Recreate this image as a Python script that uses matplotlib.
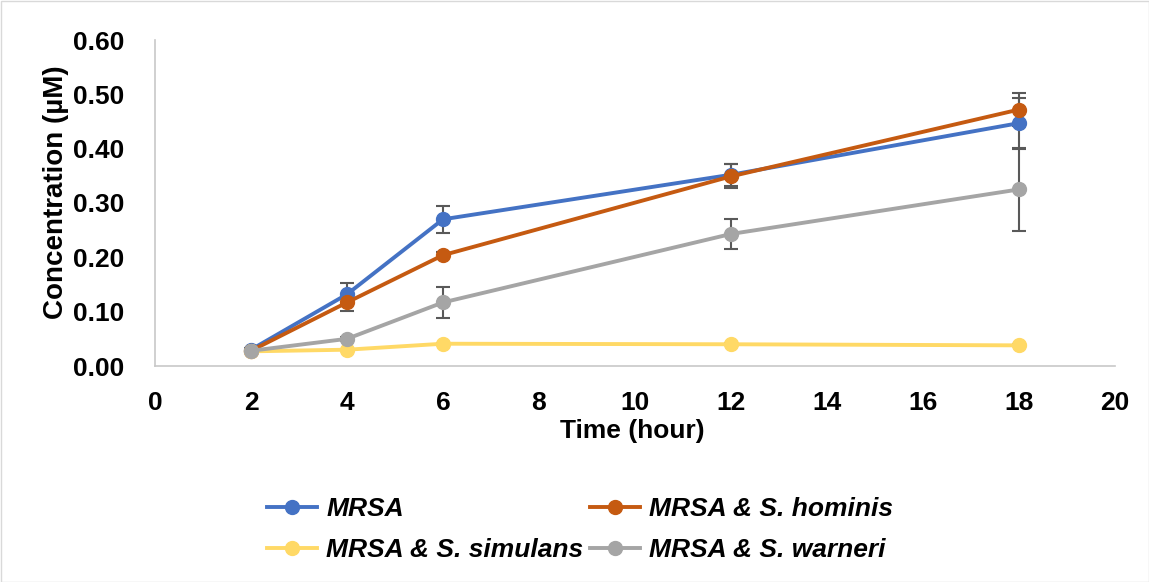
import matplotlib
matplotlib.use("Agg")
import matplotlib.pyplot as plt
from matplotlib.patches import Rectangle

plt.rcParams['font.family'] = ['Liberation Sans', 'DejaVu Sans']

time = [2, 4, 6, 12, 18]
mrsa = [0.030, 0.132, 0.270, 0.352, 0.447]
mrsa_err = [0.003, 0.020, 0.025, 0.020, 0.047]
hominis = [0.028, 0.117, 0.204, 0.349, 0.472]
hominis_err = [0.003, 0.015, 0.005, 0.022, 0.030]
simulans = [0.027, 0.030, 0.041, 0.040, 0.038]
simulans_err = [0.001, 0.002, 0.002, 0.002, 0.002]
warneri = [0.028, 0.050, 0.117, 0.243, 0.325]
warneri_err = [0.002, 0.004, 0.029, 0.027, 0.076]

labels = ["MRSA", "MRSA & S. hominis", "MRSA & S. simulans", "MRSA & S. warneri"]
colors = ["#4472C4", "#C55A11", "#FFD966", "#A5A5A5"]
series = [mrsa, hominis, simulans, warneri]
errors = [mrsa_err, hominis_err, simulans_err, warneri_err]

fig = plt.figure(figsize=(11.49, 5.82), dpi=100)
ax = fig.add_axes([155/1149, 1-366/582, (1115-155)/1149, (366-40)/582])

handles = []
for i, (y, e, c, lab) in enumerate(zip(series, errors, colors, labels)):
    ax.errorbar(time, y, yerr=e, fmt='none', ecolor='#595959', elinewidth=1.5,
                capsize=5, capthick=1.5, zorder=2 + i * 0.1)
    h, = ax.plot(time, y, color=c, lw=2.8, marker='o', markersize=10,
                 label=lab, zorder=3 + i * 0.1)
    handles.append(h)

ax.set_xlim(0, 20)
ax.set_ylim(0, 0.60)
ax.set_xticks(range(0, 21, 2))
ax.set_yticks([0, 0.1, 0.2, 0.3, 0.4, 0.5, 0.6])
ax.set_yticklabels([f"{v:.2f}" for v in [0, 0.1, 0.2, 0.3, 0.4, 0.5, 0.6]])
for s in ['top', 'right']:
    ax.spines[s].set_visible(False)
for s in ['left', 'bottom']:
    ax.spines[s].set_color('#C8C8C8')
    ax.spines[s].set_linewidth(1.2)
ax.tick_params(axis='y', length=0, labelsize=19, pad=22)
ax.tick_params(axis='x', length=0, labelsize=19, pad=18)
for t in ax.get_xticklabels() + ax.get_yticklabels():
    t.set_fontweight('bold')
ax.set_xlabel("Time (hour)", fontsize=19, fontweight='bold')
ax.set_ylabel("Concentration (µM)", fontsize=20, fontweight='bold')
ax.xaxis.set_label_coords(0.497, -0.163)
ax.yaxis.set_label_coords(-0.09, 0.534)

order = [0, 2, 1, 3]
leg = fig.legend([handles[i] for i in order], [labels[i] for i in order],
                 ncol=2, loc='center', bbox_to_anchor=(0.505, 0.09),
                 frameon=False, prop={'size': 19, 'weight': 'bold', 'style': 'italic'},
                 handlelength=1.9, handletextpad=0.35, columnspacing=0.25,
                 labelspacing=0.65)

fig.patches.append(Rectangle((0.5/1149, 0.5/582), 1 - 1/1149, 1 - 1/582,
                             transform=fig.transFigure, fill=False,
                             edgecolor='#D9D9D9', linewidth=1))

fig.savefig("out.png", dpi=100)
